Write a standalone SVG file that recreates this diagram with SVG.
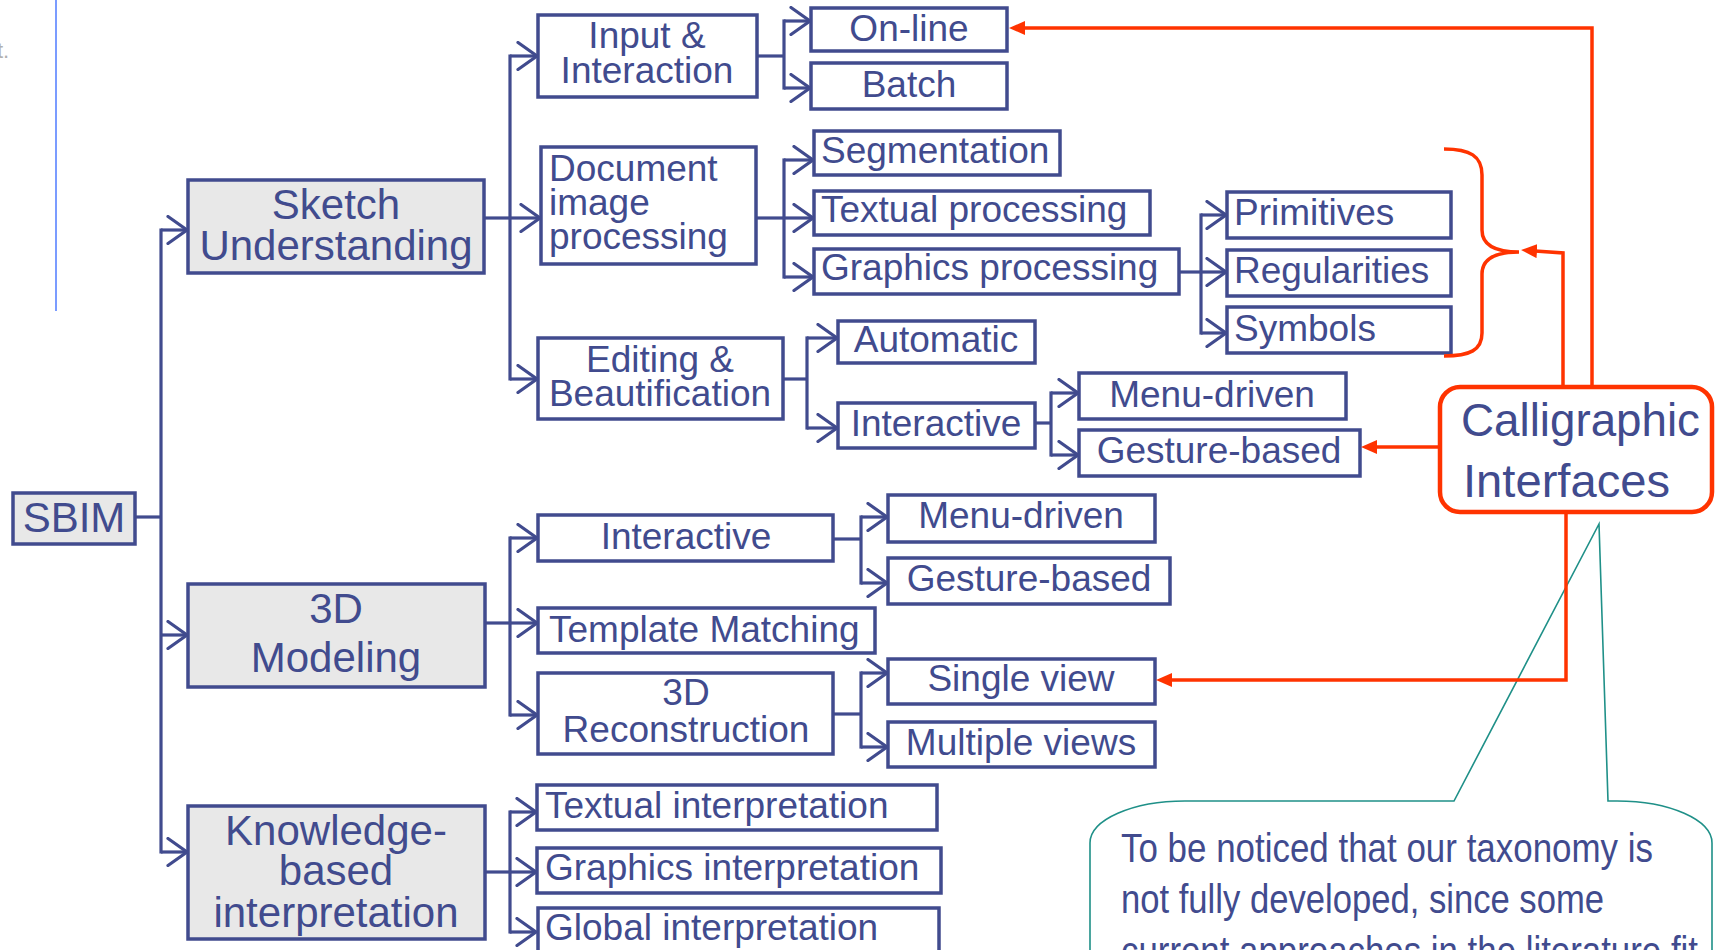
<svg xmlns="http://www.w3.org/2000/svg" width="1717" height="950" viewBox="0 0 1717 950">
  <defs>
    <style>
      .box { fill: #ffffff; stroke: #414b8e; stroke-width: 3.5; }
      .top { fill: #e8e8e8; stroke: #414b8e; stroke-width: 3.5; }
      .lbl { font-family: "Liberation Sans", Arial, sans-serif; font-size: 37px; fill: #414b8e; }
      .big { font-family: "Liberation Sans", Arial, sans-serif; font-size: 42px; fill: #414b8e; }
      .mid { text-anchor: middle; }
      .link { fill: none; stroke: #414b8e; stroke-width: 3.2; }
      .arr { marker-end: url(#chev); }
      .red { fill: none; stroke: #ff3300; stroke-width: 3.5; }
      .redarr { marker-end: url(#redhead); }
      .note { font-family: "Liberation Sans", Arial, sans-serif; font-size: 41px; fill: #414b8e; }
    </style>
    <marker id="chev" viewBox="0 0 24 30" refX="21" refY="15" markerWidth="24" markerHeight="30" markerUnits="userSpaceOnUse" orient="auto">
      <path d="M2,1.5 L21,15 L2,28.5" fill="none" stroke="#414b8e" stroke-width="3.2" stroke-linecap="round"/>
    </marker>
    <marker id="redhead" viewBox="0 0 16 14" refX="2" refY="7" markerWidth="16" markerHeight="14" markerUnits="userSpaceOnUse" orient="auto">
      <path d="M0,0 L16,7 L0,14 z" fill="#ff3300"/>
    </marker>
  </defs>

  <rect width="1717" height="950" fill="#ffffff"/>

  <!-- page margin rule and clipped footer mark -->
  <line x1="56" y1="0" x2="56" y2="311" stroke="#7b9cff" stroke-width="2"/>
  <text x="-3" y="58" font-family="Liberation Sans, Arial, sans-serif" font-size="22" fill="#b0b0b0">t.</text>

  <!-- tree connectors -->
  <g id="connectors">
    <!-- root -->
    <path class="link" d="M135,517 H161"/>
    <path class="link" d="M161,228.4 V853.6"/>
    <path class="link arr" d="M161,230 H187"/>
    <path class="link arr" d="M161,635 H187"/>
    <path class="link arr" d="M161,852 H187"/>

    <!-- sketch understanding -->
    <path class="link" d="M484,218 H510"/>
    <path class="link" d="M510,54.4 V380.6"/>
    <path class="link arr" d="M510,56 H537"/>
    <path class="link arr" d="M510,218 H540"/>
    <path class="link arr" d="M510,379 H537"/>

    <path class="link" d="M757,56 H784"/>
    <path class="link" d="M784,19.4 V89.6"/>
    <path class="link arr" d="M784,21 H810"/>
    <path class="link arr" d="M784,88 H810"/>

    <path class="link" d="M756,218 H784"/>
    <path class="link" d="M784,158.4 V278.6"/>
    <path class="link arr" d="M784,160 H813"/>
    <path class="link arr" d="M784,218 H813"/>
    <path class="link arr" d="M784,277 H813"/>

    <path class="link" d="M1179,272 H1201"/>
    <path class="link" d="M1201,213.4 V334.6"/>
    <path class="link arr" d="M1201,215 H1226"/>
    <path class="link arr" d="M1201,272 H1226"/>
    <path class="link arr" d="M1201,333 H1226"/>

    <path class="link" d="M783,379 H807"/>
    <path class="link" d="M807,336.4 V429.6"/>
    <path class="link arr" d="M807,338 H837"/>
    <path class="link arr" d="M807,428 H837"/>

    <path class="link" d="M1035,423 H1051"/>
    <path class="link" d="M1051,391.4 V456.6"/>
    <path class="link arr" d="M1051,393 H1078"/>
    <path class="link arr" d="M1051,455 H1078"/>

    <!-- 3D modeling -->
    <path class="link" d="M485,623 H510"/>
    <path class="link" d="M510,536.4 V716.6"/>
    <path class="link arr" d="M510,538 H537"/>
    <path class="link arr" d="M510,623 H537"/>
    <path class="link arr" d="M510,715 H537"/>

    <path class="link" d="M833,539 H861"/>
    <path class="link" d="M861,515.4 V584.6"/>
    <path class="link arr" d="M861,517 H887"/>
    <path class="link arr" d="M861,583 H887"/>

    <path class="link" d="M833,714 H861"/>
    <path class="link" d="M861,671.4 V748.6"/>
    <path class="link arr" d="M861,673 H887"/>
    <path class="link arr" d="M861,747 H887"/>

    <!-- knowledge-based interpretation -->
    <path class="link" d="M485,872 H510"/>
    <path class="link" d="M510,810.4 V933.6"/>
    <path class="link arr" d="M510,812 H536"/>
    <path class="link arr" d="M510,872 H536"/>
    <path class="link arr" d="M510,932 H536"/>
  </g>

  <!-- level 0 / 1 -->
  <g id="sbim">
    <rect class="top" x="13" y="493" width="122" height="51"/>
    <text class="big mid" x="74" y="532">SBIM</text>
  </g>
  <g id="sketch-understanding">
    <rect class="top" x="188" y="180" width="296" height="93"/>
    <text class="big mid" x="336" y="219">Sketch</text>
    <text class="big mid" x="336" y="260">Understanding</text>
  </g>
  <g id="modeling-3d">
    <rect class="top" x="188" y="584" width="297" height="103"/>
    <text class="big mid" x="336" y="623">3D</text>
    <text class="big mid" x="336" y="672">Modeling</text>
  </g>
  <g id="knowledge-based">
    <rect class="top" x="188" y="806" width="297" height="133"/>
    <text class="big mid" x="336" y="845">Knowledge-</text>
    <text class="big mid" x="336" y="885">based</text>
    <text class="big mid" x="336" y="927">interpretation</text>
  </g>

  <!-- sketch understanding branch -->
  <g id="input-interaction">
    <rect class="box" x="538" y="15" width="219" height="82"/>
    <text class="lbl mid" x="647" y="48">Input &amp;</text>
    <text class="lbl mid" x="647" y="83">Interaction</text>
  </g>
  <g id="on-line">
    <rect class="box" x="811" y="8" width="196" height="43"/>
    <text class="lbl mid" x="909" y="41">On-line</text>
  </g>
  <g id="batch">
    <rect class="box" x="811" y="63" width="196" height="46"/>
    <text class="lbl mid" x="909" y="97">Batch</text>
  </g>
  <g id="document-image-processing">
    <rect class="box" x="541" y="147" width="215" height="117"/>
    <text class="lbl" x="549" y="181">Document</text>
    <text class="lbl" x="549" y="215">image</text>
    <text class="lbl" x="549" y="249">processing</text>
  </g>
  <g id="segmentation">
    <rect class="box" x="814" y="131" width="246" height="44"/>
    <text class="lbl" x="821" y="163">Segmentation</text>
  </g>
  <g id="textual-processing">
    <rect class="box" x="814" y="191" width="336" height="44"/>
    <text class="lbl" x="821" y="222">Textual processing</text>
  </g>
  <g id="graphics-processing">
    <rect class="box" x="814" y="249" width="365" height="45"/>
    <text class="lbl" x="821" y="280">Graphics processing</text>
  </g>
  <g id="primitives">
    <rect class="box" x="1227" y="192" width="224" height="46"/>
    <text class="lbl" x="1234" y="225">Primitives</text>
  </g>
  <g id="regularities">
    <rect class="box" x="1227" y="250" width="224" height="46"/>
    <text class="lbl" x="1234" y="283">Regularities</text>
  </g>
  <g id="symbols">
    <rect class="box" x="1227" y="307" width="224" height="46"/>
    <text class="lbl" x="1234" y="341">Symbols</text>
  </g>
  <g id="editing-beautification">
    <rect class="box" x="538" y="338" width="245" height="81"/>
    <text class="lbl mid" x="660" y="372">Editing &amp;</text>
    <text class="lbl mid" x="660" y="406">Beautification</text>
  </g>
  <g id="automatic">
    <rect class="box" x="838" y="321" width="197" height="42"/>
    <text class="lbl mid" x="936" y="352">Automatic</text>
  </g>
  <g id="interactive-editing">
    <rect class="box" x="838" y="403" width="197" height="45"/>
    <text class="lbl mid" x="936" y="436">Interactive</text>
  </g>
  <g id="menu-driven-editing">
    <rect class="box" x="1079" y="373" width="267" height="46"/>
    <text class="lbl mid" x="1212" y="407">Menu-driven</text>
  </g>
  <g id="gesture-based-editing">
    <rect class="box" x="1079" y="430" width="281" height="46"/>
    <text class="lbl mid" x="1219" y="463">Gesture-based</text>
  </g>

  <!-- 3D modeling branch -->
  <g id="interactive-modeling">
    <rect class="box" x="538" y="515" width="295" height="46"/>
    <text class="lbl mid" x="686" y="549">Interactive</text>
  </g>
  <g id="menu-driven-modeling">
    <rect class="box" x="888" y="495" width="267" height="47"/>
    <text class="lbl mid" x="1021" y="528">Menu-driven</text>
  </g>
  <g id="gesture-based-modeling">
    <rect class="box" x="888" y="558" width="282" height="46"/>
    <text class="lbl mid" x="1029" y="591">Gesture-based</text>
  </g>
  <g id="template-matching">
    <rect class="box" x="538" y="608" width="337" height="45"/>
    <text class="lbl" x="549" y="642">Template Matching</text>
  </g>
  <g id="reconstruction-3d">
    <rect class="box" x="538" y="673" width="295" height="81"/>
    <text class="lbl mid" x="686" y="705">3D</text>
    <text class="lbl mid" x="686" y="742">Reconstruction</text>
  </g>
  <g id="single-view">
    <rect class="box" x="888" y="659" width="267" height="45"/>
    <text class="lbl mid" x="1021" y="691">Single view</text>
  </g>
  <g id="multiple-views">
    <rect class="box" x="888" y="722" width="267" height="45"/>
    <text class="lbl mid" x="1021" y="755">Multiple views</text>
  </g>

  <!-- knowledge-based branch -->
  <g id="textual-interpretation">
    <rect class="box" x="537" y="785" width="400" height="45"/>
    <text class="lbl" x="545" y="818">Textual interpretation</text>
  </g>
  <g id="graphics-interpretation">
    <rect class="box" x="537" y="848" width="404" height="45"/>
    <text class="lbl" x="545" y="880">Graphics interpretation</text>
  </g>
  <g id="global-interpretation">
    <rect class="box" x="538" y="908" width="401" height="60"/>
    <text class="lbl" x="545" y="940">Global interpretation</text>
  </g>

  <!-- note balloon -->
  <g id="note">
    <path d="M1090,960 V843 A95,42 0 0 1 1185,801 H1454 L1599,524 L1608,801 H1617 A95,42 0 0 1 1712,843 V960" fill="none" stroke="#1f9088" stroke-width="1.6"/>
    <text class="note" x="1121" y="862" textLength="532" lengthAdjust="spacingAndGlyphs">To be noticed that our taxonomy is</text>
    <text class="note" x="1121" y="913" textLength="483" lengthAdjust="spacingAndGlyphs">not fully developed, since some</text>
    <text class="note" x="1121" y="965" textLength="577" lengthAdjust="spacingAndGlyphs">current approaches in the literature fit</text>
  </g>

  <!-- calligraphic interfaces links -->
  <g id="calligraphic-links">
    <path class="red" d="M1444,149 C1470,149 1482,156 1482,175 V230 C1482,246 1496,252 1519,252 C1496,252 1482,258 1482,274 V333 C1482,350 1470,356 1444,356" stroke-width="3"/>
    <path class="red redarr" d="M1592,387 V28 H1023"/>
    <path class="red redarr" d="M1563,387 V253 L1535,251"/>
    <path class="red redarr" d="M1440,447 H1375"/>
    <path class="red redarr" d="M1566,512 V680 H1170"/>
  </g>

  <g id="calligraphic-interfaces">
    <rect x="1440" y="387" width="272" height="125" rx="20" ry="20" fill="#ffffff" stroke="#ff3300" stroke-width="4.5"/>
    <text x="1461" y="436" font-family="Liberation Sans, Arial, sans-serif" font-size="46" fill="#414b8e" textLength="239" lengthAdjust="spacingAndGlyphs">Calligraphic</text>
    <text x="1463" y="497" font-family="Liberation Sans, Arial, sans-serif" font-size="46" fill="#414b8e" textLength="207" lengthAdjust="spacingAndGlyphs">Interfaces</text>
  </g>
</svg>
